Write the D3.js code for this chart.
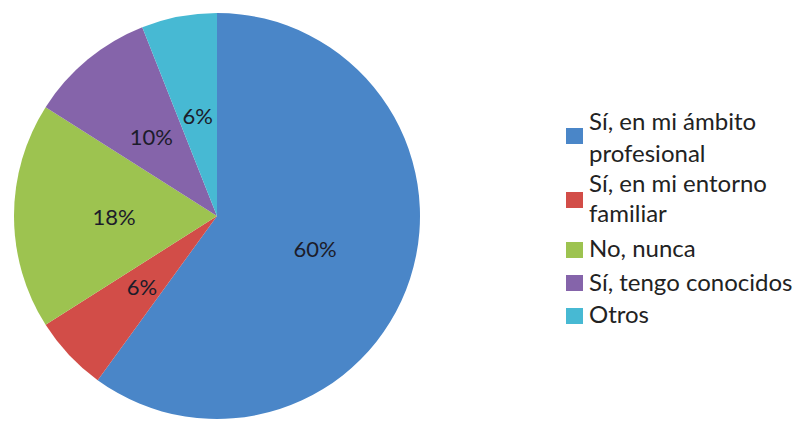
<!DOCTYPE html>
<html>
<head>
<meta charset="utf-8">
<script src="https://cdn.jsdelivr.net/npm/d3@7"></script>
<style>
  html, body { margin: 0; padding: 0; background: #fff; }
  svg { display: block; }
</style>
</head>
<body>
<svg id="chart" width="800" height="421"></svg>
<script>
// Survey answers and their shares (percent)
const categories = ["Sí, en mi ámbito profesional", "Sí, en mi entorno familiar", "No, nunca", "Sí, tengo conocidos", "Otros"];
const values = [60, 6, 18, 10, 6];
const colors = ["#4A86C8", "#D24D48", "#9DC350", "#8564AA", "#47B9D3"];
// Legend text, broken into lines
const legendLines = [["Sí, en mi ámbito", "profesional"], ["Sí, en mi entorno", "familiar"], ["No, nunca"], ["Sí, tengo conocidos"], ["Otros"]];

const svg = d3.select("#chart");
const cx = 217, cy = 216, R = 203;
const font = "Lato, 'Open Sans', sans-serif";

const pie = d3.pie().sort(null).value(d => d)
  .startAngle(0).endAngle(2 * Math.PI);
const arcs = pie(values);
const arc = d3.arc().innerRadius(0).outerRadius(R);
const labelArc = d3.arc().innerRadius(0).outerRadius(206);

const g = svg.append("g").attr("transform", `translate(${cx},${cy})`);

g.selectAll("path.slice")
  .data(arcs)
  .join("path")
  .attr("class", "slice")
  .attr("d", arc)
  .attr("fill", (d, i) => colors[i]);

g.selectAll("text.pct")
  .data(arcs)
  .join("text")
  .attr("class", "pct")
  .attr("transform", d => `translate(${labelArc.centroid(d)})`)
  .attr("text-anchor", "middle")
  .attr("dy", "0.4em")
  .attr("font-family", font)
  .attr("font-size", 22)
  .attr("fill", "#1c1c2a")
  .text(d => d3.format(".0%")(d.value / 100));

// Legend: swatch top and text baselines for each entry
const swatchY = [128, 192, 242, 275, 308];
const baselines = [[130, 162], [192, 222], [257], [291], [323]];
const legend = svg.append("g");
categories.forEach((c, i) => {
  legend.append("rect")
    .attr("x", 566)
    .attr("y", swatchY[i])
    .attr("width", 17)
    .attr("height", 16)
    .attr("fill", colors[i]);
  const t = legend.append("text")
    .attr("font-family", font)
    .attr("font-size", 24)
    .attr("fill", "#222");
  legendLines[i].forEach((ln, k) => {
    t.append("tspan")
      .attr("x", 589)
      .attr("y", baselines[i][k])
      .text(ln);
  });
});
</script>
</body>
</html>
